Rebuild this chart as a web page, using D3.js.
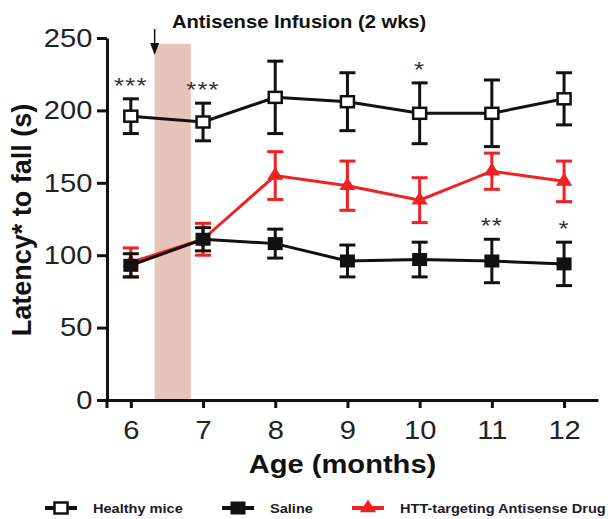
<!DOCTYPE html>
<html>
<head>
<meta charset="utf-8">
<script src="https://cdn.jsdelivr.net/npm/d3@7"></script>
<style>
  body { margin: 0; background: #fff; }
  svg { display: block; font-family: "Liberation Sans", Arial, Helvetica, sans-serif; }
</style>
</head>
<body>
<svg width="612" height="519"></svg>
<script>
// values (latency to fall, seconds)
var months = [6, 7, 8, 9, 10, 11, 12];
var healthyMean = [196, 192, 209, 206, 198, 198, 208];
var healthyErr  = [12, 13, 25, 20, 21, 23, 18];
var salineMean  = [93, 111, 108, 96, 97, 96, 94];
var salineErr   = [8, 8, 10, 11, 12, 15, 15];
var drugMean    = [95, 111, 155, 148, 138, 158, 151];
var drugErr     = [10, 11, 16.5, 17, 15.5, 12.5, 14];
var yTicks = [0, 50, 100, 150, 200, 250];

var starMonths = [6, 7, 10, 11, 12];
var starText   = ["***", "***", "*", "**", "*"];
var starSeries = ["healthy", "healthy", "healthy", "saline", "saline"];

var infusionStart = 6.33, infusionEnd = 6.83, infusionTop = 246;

var svg = d3.select("svg");
var stretch = 1.12;   // the source figure is a bit wide

var x = d3.scaleLinear().domain([5.67, 12.47]).range([107, 598]);
var y = d3.scaleLinear().domain([0, 250]).range([400, 38]);

// infusion band
svg.append("rect")
    .attr("x", x(infusionStart))
    .attr("y", y(infusionTop))
    .attr("width", x(infusionEnd) - x(infusionStart))
    .attr("height", y(0) - y(infusionTop))
    .attr("fill", "#e7c4b9");

// axes
var yAxis = svg.append("g")
    .attr("transform", "translate(" + x.range()[0] + ",0)")
    .call(d3.axisLeft(y).tickValues(yTicks).tickSize(10).tickSizeOuter(0).tickPadding(3));
var xAxis = svg.append("g")
    .attr("transform", "translate(0," + y(0) + ")")
    .call(d3.axisBottom(x).tickValues(months).tickFormat(d3.format("d"))
        .tickSize(8).tickSizeOuter(0).tickPadding(6));

[yAxis, xAxis].forEach(function(a) {
    a.select(".domain").attr("stroke", "#111").attr("stroke-width", 3);
    a.selectAll(".tick line").attr("stroke", "#111").attr("stroke-width", 3);
    a.selectAll(".tick text")
        .attr("fill", "#222")
        .style("font-size", "26px")
        .attr("transform", "scale(" + stretch + ",1)");
});
xAxis.selectAll(".tick text").attr("dy", "0.95em");
// y axis runs a little past the x axis
svg.append("line")
    .attr("x1", x.range()[0]).attr("x2", x.range()[0])
    .attr("y1", y(0)).attr("y2", y(0) + 8)
    .attr("stroke", "#111").attr("stroke-width", 3);

function label(px, py, txt, size, weight, anchor, fill) {
    return svg.append("text")
        .attr("transform", "translate(" + px + "," + py + ") scale(" + stretch + ",1)")
        .attr("text-anchor", anchor || "start")
        .style("font-size", size + "px")
        .style("font-weight", weight || "normal")
        .attr("fill", fill || "#111")
        .text(txt);
}

// axis titles
label((x.range()[0] + x.range()[1]) / 2 - 10, 473, "Age (months)", 26, "bold", "middle");
svg.append("text")
    .attr("transform", "translate(31,220) rotate(-90)")
    .attr("text-anchor", "middle")
    .style("font-size", "27px")
    .style("font-weight", "bold")
    .attr("fill", "#111")
    .text("Latency* to fall (s)");

// infusion arrow + title
var ax = x(infusionStart);
svg.append("line")
    .attr("x1", ax).attr("x2", ax).attr("y1", 29).attr("y2", 46)
    .attr("stroke", "#111").attr("stroke-width", 1.5);
svg.append("path")
    .attr("d", "M" + (ax - 4.5) + ",43 L" + (ax + 4.5) + ",43 L" + ax + ",55 Z")
    .attr("fill", "#111");
label(172, 28, "Antisense Infusion (2 wks)", 18, "bold");

// series
function toPoints(means, errs) {
    return months.map(function(m, i) { return { m: m, v: means[i], e: errs[i] }; });
}

var line = d3.line()
    .x(function(d) { return x(d.m); })
    .y(function(d) { return y(d.v); });

function drawSeries(pts, color, marker) {
    var g = svg.append("g");
    g.append("path")
        .datum(pts)
        .attr("d", line)
        .attr("fill", "none")
        .attr("stroke", color)
        .attr("stroke-width", 3);

    var eb = g.selectAll(".eb").data(pts).enter().append("g");
    eb.append("line")
        .attr("x1", function(d) { return x(d.m); })
        .attr("x2", function(d) { return x(d.m); })
        .attr("y1", function(d) { return y(d.v + d.e); })
        .attr("y2", function(d) { return y(d.v - d.e); });
    eb.append("line")
        .attr("x1", function(d) { return x(d.m) - 8; })
        .attr("x2", function(d) { return x(d.m) + 8; })
        .attr("y1", function(d) { return y(d.v + d.e); })
        .attr("y2", function(d) { return y(d.v + d.e); });
    eb.append("line")
        .attr("x1", function(d) { return x(d.m) - 8; })
        .attr("x2", function(d) { return x(d.m) + 8; })
        .attr("y1", function(d) { return y(d.v - d.e); })
        .attr("y2", function(d) { return y(d.v - d.e); });
    eb.selectAll("line").attr("stroke", color).attr("stroke-width", 3);

    g.selectAll(".mk").data(pts).enter().each(function(d) {
        marker(g, x(d.m), y(d.v));
    });
}

function openSquare(g, cx, cy) {
    g.append("rect")
        .attr("x", cx - 6.5).attr("y", cy - 5.5)
        .attr("width", 13).attr("height", 11)
        .attr("fill", "#fff").attr("stroke", "#111").attr("stroke-width", 2.5);
}
function filledSquare(g, cx, cy) {
    g.append("rect")
        .attr("x", cx - 7.5).attr("y", cy - 6.5)
        .attr("width", 15).attr("height", 13)
        .attr("fill", "#111");
}
var tri = d3.symbol().type(d3.symbolTriangle).size(95);
function triangle(g, cx, cy) {
    g.append("path")
        .attr("d", tri())
        .attr("transform", "translate(" + cx + "," + cy + ") scale(1.1,1)")
        .attr("fill", "#ee2222");
}

drawSeries(toPoints(drugMean, drugErr), "#ee2222", triangle);
drawSeries(toPoints(salineMean, salineErr), "#111", filledSquare);
drawSeries(toPoints(healthyMean, healthyErr), "#111", openSquare);

// significance stars, just above the relevant error bar
starMonths.forEach(function(m, i) {
    var k = months.indexOf(m);
    var top = starSeries[i] === "healthy" ? healthyMean[k] + healthyErr[k] : salineMean[k] + salineErr[k];
    label(x(m), y(top) - 6, starText[i], 23, "normal", "middle", "#333")
        .style("letter-spacing", "1px");
});

// legend
var legY = 508;
var legend = [
    { cx: 61,  tx: 93,  text: "Healthy mice", marker: openSquare, color: "#111" },
    { cx: 238, tx: 270, text: "Saline", marker: filledSquare, color: "#111" },
    { cx: 368, tx: 400, text: "HTT-targeting Antisense Drug", marker: triangle, color: "#ee2222" }
];
legend.forEach(function(l) {
    svg.append("line")
        .attr("x1", l.cx - 16).attr("x2", l.cx + 16)
        .attr("y1", legY).attr("y2", legY)
        .attr("stroke", l.color).attr("stroke-width", 4);
    l.marker(svg, l.cx, legY);
    label(l.tx, legY + 5, l.text, 13, "bold", "start", "#1a1a2a");
});
</script>
</body>
</html>
